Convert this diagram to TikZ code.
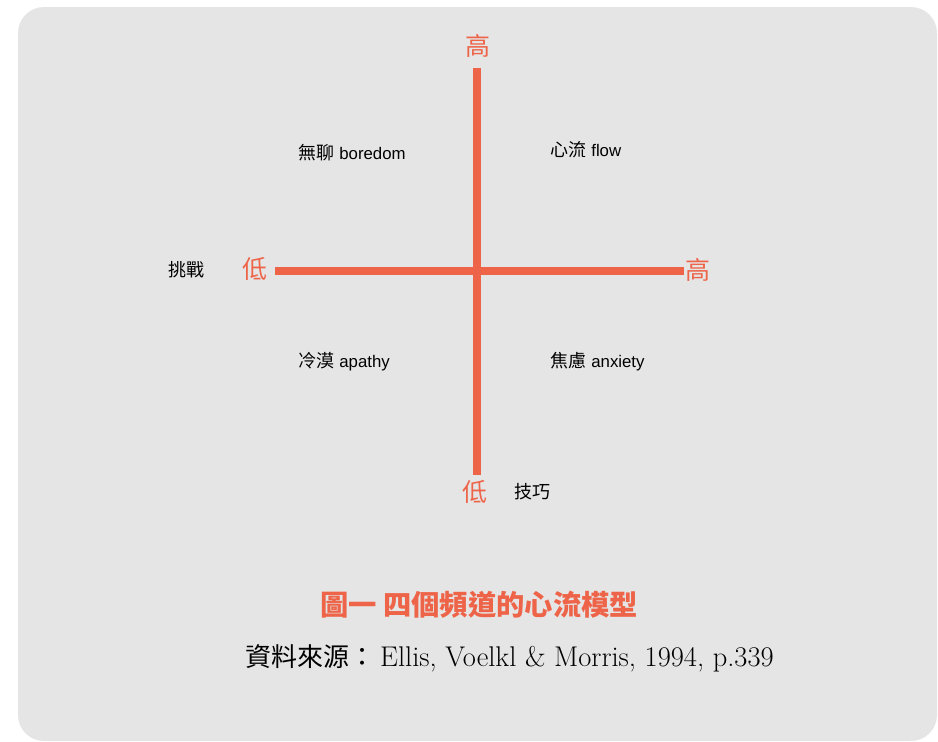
\documentclass[tikz,border=0pt]{standalone}
\usepackage{fontspec}
\newfontfamily\cjk{Noto Sans CJK TC}
\newfontfamily\lsans{Liberation Sans}
\definecolor{bggray}{HTML}{E5E5E5}
\definecolor{flowred}{HTML}{EE6449}
\tikzset{
  axisline/.style={draw=flowred, line width=8pt},
  axlabel/.style={inner sep=0pt, text=flowred, font=\cjk\fontsize{25}{25}\selectfont},
  quad/.style={inner sep=0pt, anchor=west, font=\fontsize{17}{17}\selectfont},
  dimlabel/.style={inner sep=0pt, font=\cjk\fontsize{18}{18}\selectfont},
}
\newcommand{\qlabel}[2]{{\cjk\fontsize{18}{18}\selectfont #1} {\lsans\fontsize{16.8}{17}\selectfont #2}}
\begin{document}
\begin{tikzpicture}[x=1pt,y=-1pt]
\useasboundingbox (0,0) rectangle (938,742);
\fill[bggray, rounded corners=26pt] (18,7) rectangle (937,741);
\coordinate (top) at (477,68);
\coordinate (bot) at (477,475);
\coordinate (lft) at (275,270.5);
\coordinate (rgt) at (684,270.5);
\draw[axisline] (top) -- (bot);
\draw[axisline] (lft) -- (rgt);
\node[axlabel] (hiY) at (478,46) {高};
\node[axlabel] (loX) at (255,269) {低};
\node[axlabel] (hiX) at (698,270) {高};
\node[axlabel] (loY) at (475,492) {低};
\node[dimlabel] (challenge) at (186,270) {挑戰};
\node[dimlabel] (skill) at (532,492) {技巧};
\node[quad] (boredom) at (298,153) {\qlabel{無聊}{boredom}};
\node[quad] (flow) at (550,150) {\qlabel{心流}{flow}};
\node[quad] (apathy) at (298,362) {\qlabel{冷漠}{apathy}};
\node[quad] (anxiety) at (550,362) {\qlabel{焦慮}{anxiety}};
\node[inner sep=0pt, anchor=west, text=flowred, font=\cjk\bfseries\fontsize{28.3}{28}\selectfont] (title) at (320,605) {圖一 四個頻道的心流模型};
\node[inner sep=0pt, anchor=west, font=\fontsize{28.5}{28}\selectfont] (source) at (245,658) {{\cjk\fontsize{26}{26}\selectfont 資料來源：}\kern5pt Ellis, Voelkl \& Morris, 1994, p.339};
\end{tikzpicture}
\end{document}
